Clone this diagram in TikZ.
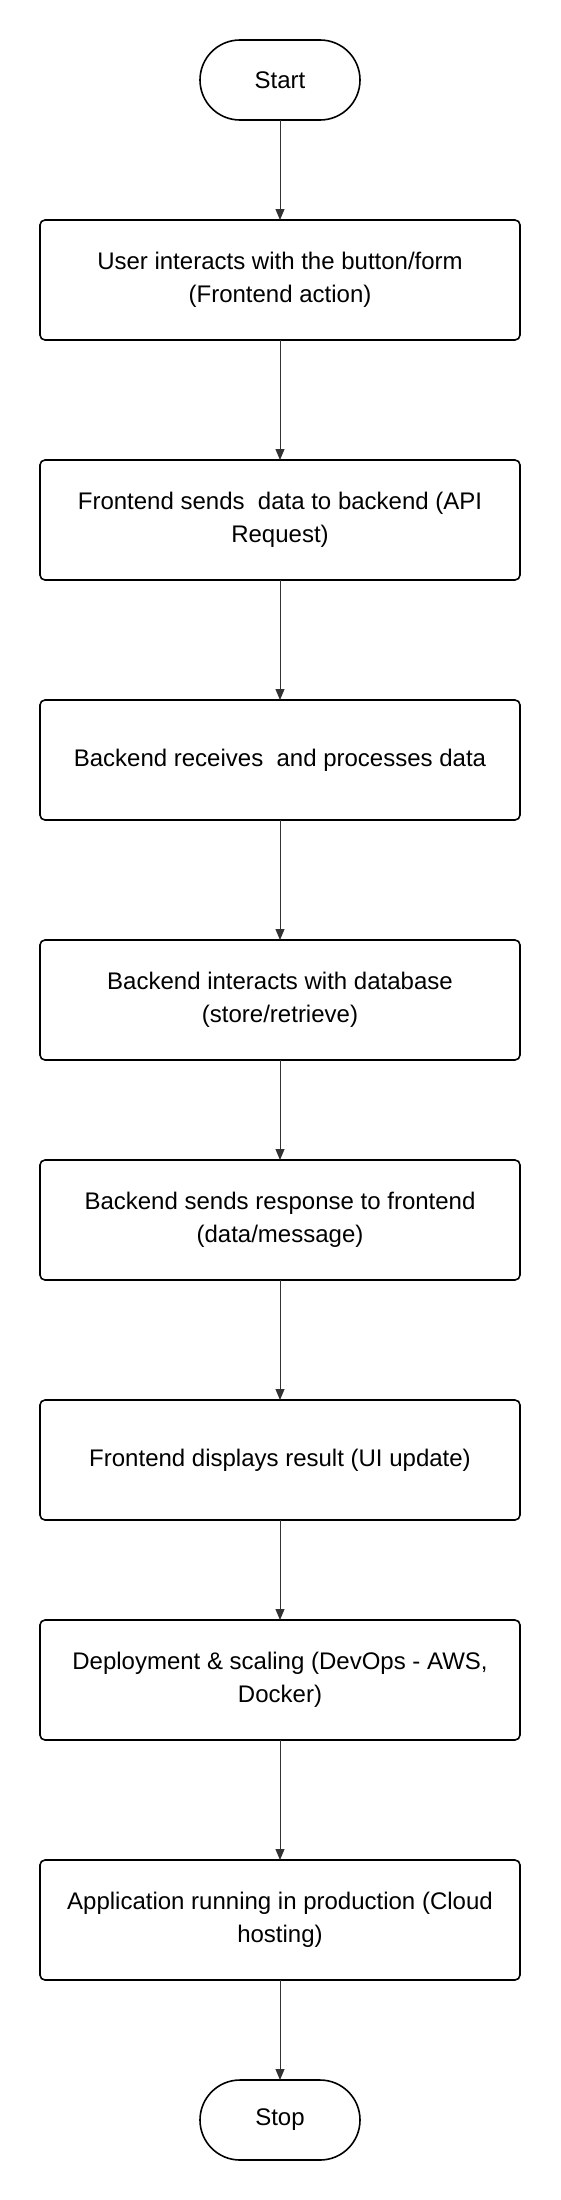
\documentclass[tikz,border=0pt]{standalone}
\usepackage{fontspec}
\setmainfont{Liberation Sans}
\usepackage{xcolor}
\usetikzlibrary{positioning, arrows.meta}

\definecolor{linegrey}{HTML}{333333}

\begin{document}
\begin{tikzpicture}[x=1pt,y=1pt,
  terminal/.style={draw=black, line width=1.6pt, fill=white, rounded corners=40pt,
    minimum width=160pt, minimum height=80pt, inner sep=0pt, outer sep=0pt,
    font=\fontsize{24}{33}\selectfont},
  process/.style={draw=black, line width=1.6pt, fill=white, rounded corners=5pt,
    minimum width=480pt, minimum height=120pt, inner sep=0pt, outer sep=0pt, align=center,
    font=\fontsize{24}{33}\selectfont},
  flow/.style={draw=linegrey, line width=1pt, -{Triangle[length=11pt,width=9pt]}}]
%set diagram size: 560 x 2200
\useasboundingbox (0,0) rectangle (560,-2200);

%Shape: Terminal [start]
\node [terminal] (start) at (280,-80) {Start};
%Shape: Rectangle [user]
\node [process, below=100pt of start] (user) {User interacts with the button/form\\(Frontend action)};
%Shape: Rectangle [request]
\node [process, below=120pt of user] (request) {Frontend sends~ data to backend (API\\Request)};
%Shape: Rectangle [process]
\node [process, below=120pt of request] (handle) {Backend receives~ and processes data};
%Shape: Rectangle [database]
\node [process, below=120pt of handle] (database) {Backend interacts with database\\(store/retrieve)};
%Shape: Rectangle [response]
\node [process, below=100pt of database] (response) {Backend sends response to frontend\\(data/message)};
%Shape: Rectangle [display]
\node [process, below=120pt of response] (display) {Frontend displays result (UI update)};
%Shape: Rectangle [deploy]
\node [process, below=100pt of display] (deploy) {Deployment \& scaling (DevOps - AWS,\\Docker)};
%Shape: Rectangle [production]
\node [process, below=120pt of deploy] (production) {Application running in production (Cloud\\hosting)};
%Shape: Terminal [stop]
\node [terminal, below=100pt of production] (stop) {Stop};

%Straight Lines
\draw [flow] (start) -- (user);
\draw [flow] (user) -- (request);
\draw [flow] (request) -- (handle);
\draw [flow] (handle) -- (database);
\draw [flow] (database) -- (response);
\draw [flow] (response) -- (display);
\draw [flow] (display) -- (deploy);
\draw [flow] (deploy) -- (production);
\draw [flow] (production) -- (stop);

\end{tikzpicture}
\end{document}
